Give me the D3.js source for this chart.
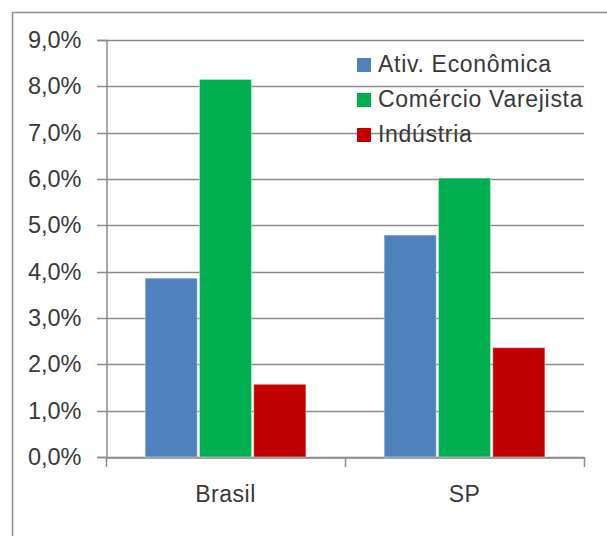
<!DOCTYPE html>
<html>
<head>
<meta charset="utf-8">
<script src="https://cdn.jsdelivr.net/npm/d3@7"></script>
<style>
  body { margin: 0; background: #fff; }
  svg text { font-family: 'Liberation Sans', Arial, sans-serif; fill: #383838; }
</style>
</head>
<body>
<div id="chart"></div>
<script>
const categories = ['Brasil', 'SP'];
const seriesNames = ['Ativ. Econômica', 'Comércio Varejista', 'Indústria'];
const seriesColors = ['#4F81BD', '#00B050', '#C00000'];
// values in %, one array per series, in category order
const ativEconomica = [3.86, 4.79];
const comercioVarejista = [8.15, 6.02];
const industria = [1.57, 2.36];
const yTicks = [0, 1, 2, 3, 4, 5, 6, 7, 8, 9];

const seriesValues = [ativEconomica, comercioVarejista, industria];
const data = categories.map((cat, i) => ({
  cat,
  values: seriesNames.map((name, j) => ({ name, value: seriesValues[j][i], color: seriesColors[j] })),
}));

const width = 607;
const height = 536;
const margin = { top: 40, right: 23, bottom: 79, left: 106 };

const svg = d3.select('#chart')
  .append('svg')
  .attr('width', width)
  .attr('height', height);

// outer frame (only left and top edges show)
svg.append('path')
  .attr('d', `M12.5,${height + 5}V12.5H${width + 5}`)
  .attr('fill', 'none')
  .attr('stroke', '#8c8c8c')
  .attr('stroke-width', 1.5);

const x0 = d3.scaleBand()
  .domain(categories)
  .range([margin.left, width - margin.right]);

const x1 = d3.scaleBand()
  .domain(seriesNames)
  .range([0, x0.bandwidth()])
  .paddingInner(0.04)
  .paddingOuter(0.72);

const y = d3.scaleLinear()
  .domain([0, 9])
  .range([height - margin.bottom, margin.top]);

const fmt = d => `${d3.format('.1f')(d).replace('.', ',')}%`;

// gridlines
svg.append('g')
  .selectAll('line')
  .data(yTicks)
  .enter()
  .append('line')
  .attr('x1', margin.left - 9)
  .attr('x2', width - margin.right)
  .attr('y1', d => Math.round(y(d)) + 0.5)
  .attr('y2', d => Math.round(y(d)) + 0.5)
  .attr('stroke', '#8a8a8a')
  .attr('stroke-width', 1.5);

// y axis
const yAxis = svg.append('g')
  .attr('transform', `translate(${margin.left + 0.5},0)`)
  .call(d3.axisLeft(y).tickValues(yTicks).tickFormat(fmt).tickSize(9).tickPadding(16));
yAxis.attr('font-size', null).attr('font-family', null);
yAxis.select('.domain').attr('stroke', '#8a8a8a').attr('stroke-width', 1.5);
yAxis.selectAll('.tick line').remove();
yAxis.selectAll('text')
  .style('font-size', '23.5px')
  .attr('fill', '#383838');

// x axis
const xAxis = svg.append('g')
  .attr('transform', `translate(0,${Math.round(y(0)) + 0.5})`)
  .call(d3.axisBottom(x0).tickSize(0).tickPadding(28));
xAxis.attr('font-size', null).attr('font-family', null);
xAxis.select('.domain').attr('stroke', '#8a8a8a').attr('stroke-width', 1.5);
xAxis.selectAll('text')
  .style('font-size', '23px')
  .style('letter-spacing', '0.5px')
  .attr('fill', '#383838');

svg.append('g')
  .selectAll('line')
  .data([...categories.map(c => x0(c)), width - margin.right])
  .enter()
  .append('line')
  .attr('x1', d => Math.round(d) + 0.5)
  .attr('x2', d => Math.round(d) + 0.5)
  .attr('y1', y(0))
  .attr('y2', y(0) + 10)
  .attr('stroke', '#8a8a8a')
  .attr('stroke-width', 1.5);

// bars
const groups = svg.append('g')
  .selectAll('g')
  .data(data)
  .enter()
  .append('g')
  .attr('transform', d => `translate(${x0(d.cat)},0)`);

groups.selectAll('rect')
  .data(d => d.values)
  .enter()
  .append('rect')
  .attr('x', d => x1(d.name))
  .attr('y', d => y(d.value))
  .attr('width', x1.bandwidth())
  .attr('height', d => y(0) - y(d.value))
  .attr('fill', d => d.color)
  .attr('stroke', 'rgba(255,255,255,0.45)')
  .attr('stroke-width', 1);

// legend
const legend = svg.append('g')
  .attr('transform', 'translate(357,0)');

const item = legend.selectAll('g')
  .data(seriesNames)
  .enter()
  .append('g')
  .attr('transform', (d, i) => `translate(0,${72 + i * 35})`);

item.append('rect')
  .attr('x', 0)
  .attr('y', -14)
  .attr('width', 14)
  .attr('height', 14)
  .attr('fill', (d, i) => seriesColors[i]);

item.append('text')
  .attr('x', 21)
  .attr('y', 0)
  .style('font-size', '23px')
  .style('letter-spacing', '0.7px')
  .text(d => d);
</script>
</body>
</html>
